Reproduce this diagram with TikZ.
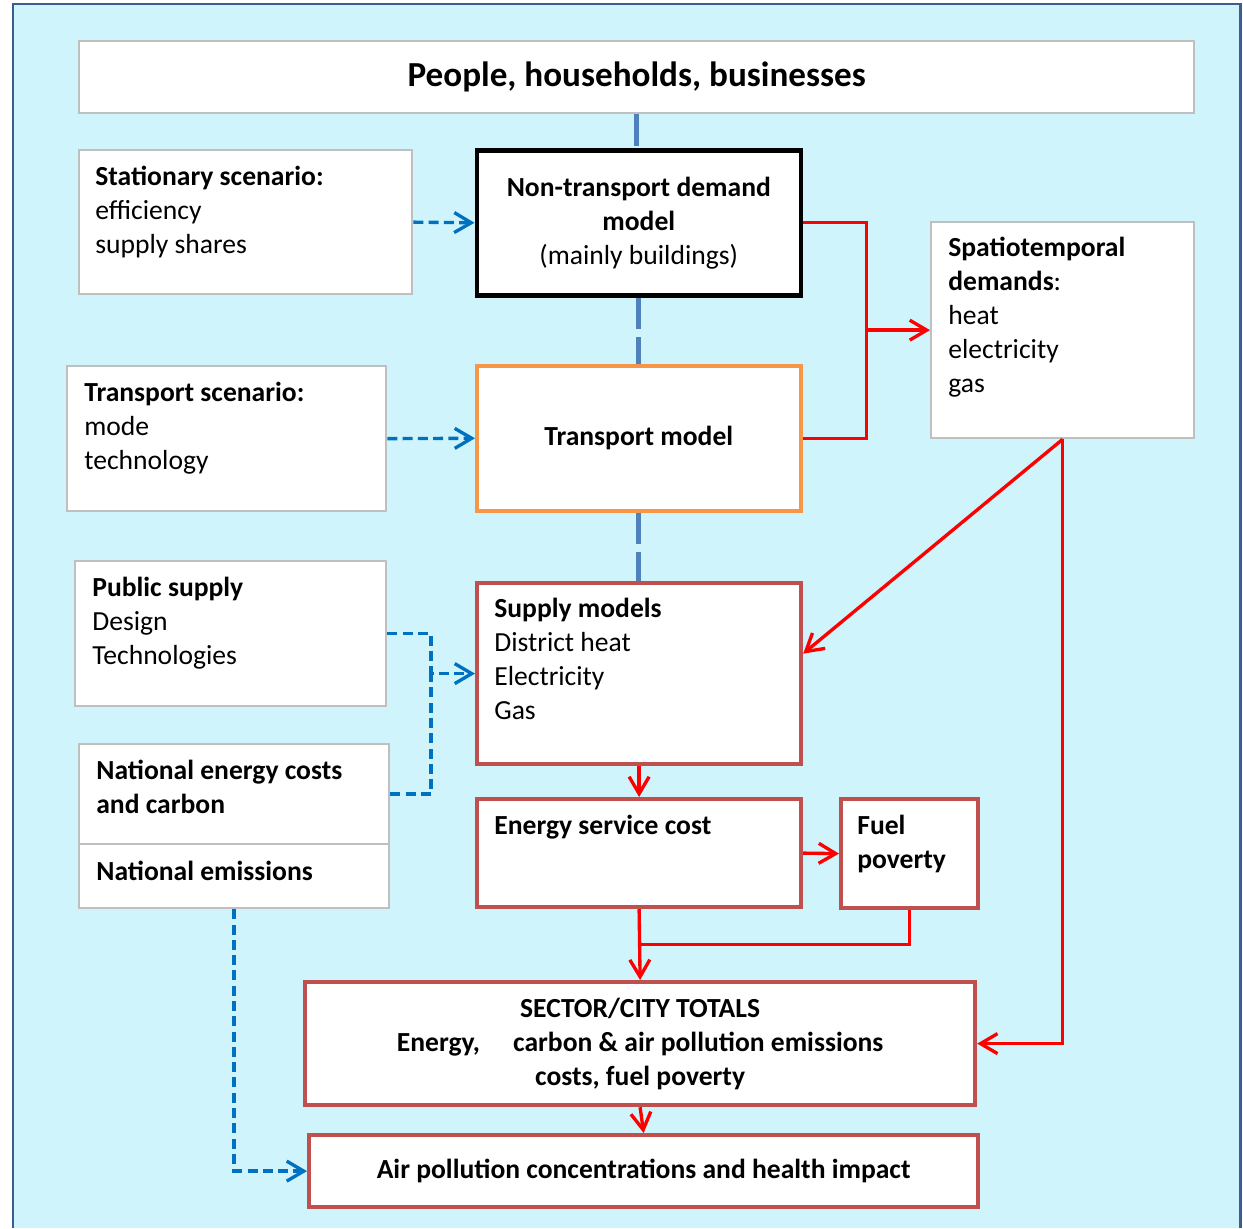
\documentclass[tikz,border=0pt]{standalone}
\usepackage{fontspec}
\setmainfont{Carlito}
\usetikzlibrary{arrows.meta,positioning,calc}
\definecolor{bgblue}{HTML}{CFF4FC}
\definecolor{frameblue}{HTML}{3A5F8F}
\definecolor{boxgray}{HTML}{BFBFBF}
\definecolor{linkblue}{HTML}{4F81BD}
\definecolor{dashblue}{HTML}{0070C0}
\definecolor{supplyred}{HTML}{C0504D}
\definecolor{modelorange}{HTML}{F79646}
\definecolor{flowred}{HTML}{FF0000}

\tikzset{
  box/.style={draw=boxgray, line width=1.3pt, fill=white, anchor=north west, inner sep=0pt},
  redbox/.style={box, draw=supplyred, line width=2.4pt},
  boxtext/.style={anchor=north west, inner sep=0pt, align=left, font=\fontsize{15.7}{19.3}\selectfont},
  midtext/.style={align=center, font=\fontsize{15.7}{19.3}\selectfont},
  link/.style={draw=linkblue, line width=2.8pt, dash pattern=on 18pt off 4.5pt},
  blueflow/.style={draw=dashblue, line width=1.9pt, dash pattern=on 5.7pt off 3pt},
  redflow/.style={draw=flowred, line width=1.9pt},
  tip/.style={-{Straight Barb[length=3.4mm,width=4mm,line width=1.9pt]}}
}

\begin{document}
\begin{tikzpicture}
  \useasboundingbox (0,0) rectangle (24.86,-24.56);
  % background and frame
  \fill[white] (0,0) rectangle (24.86,-24.56);
  \fill[bgblue] (0.26,-0.08) rectangle (24.80,-24.56);
  \draw[frameblue, line width=1.7pt] (0.26,-24.56) -- (0.26,-0.08) -- (24.80,-0.08) -- (24.80,-24.56);

  % boxes
  \node[box, minimum width=22.30cm, minimum height=1.44cm, font=\fontsize{20}{24}\selectfont\bfseries] (people) at (1.56,-0.80) {People, households, businesses};
  \node[box, minimum width=6.66cm, minimum height=2.88cm] (stat) at (1.56,-2.98) {};
  \node[box, draw=black, line width=2.6pt, minimum width=6.48cm, minimum height=2.90cm, midtext] (nontr) at (9.49,-2.96) {\textbf{Non-transport demand}\\\textbf{model}\\(mainly buildings)};
  \node[box, minimum width=5.26cm, minimum height=4.32cm] (spat) at (18.60,-4.42) {};
  \node[box, minimum width=6.38cm, minimum height=2.90cm] (trsc) at (1.32,-7.30) {};
  \node[box, draw=modelorange, line width=2pt, minimum width=6.48cm, minimum height=2.90cm, midtext, font=\fontsize{15.7}{19.3}\selectfont\bfseries] (trmod) at (9.50,-7.28) {Transport model};
  \node[box, minimum width=6.22cm, minimum height=2.90cm] (pub) at (1.48,-11.20) {};
  \node[redbox, minimum width=6.48cm, minimum height=3.62cm] (supply) at (9.50,-11.62) {};
  \node[box, minimum width=6.20cm, minimum height=2.00cm] (natcost) at (1.56,-14.86) {};
  \node[box, minimum width=6.20cm, minimum height=1.28cm] (natem) at (1.56,-16.86) {};
  \node[redbox, minimum width=6.48cm, minimum height=2.16cm] (esc) at (9.50,-15.94) {};
  \node[redbox, minimum width=2.74cm, minimum height=2.18cm] (fuel) at (16.78,-15.94) {};
  \node[redbox, minimum width=13.40cm, minimum height=2.46cm, midtext, font=\fontsize{15.7}{19.3}\selectfont\bfseries] (totals) at (6.06,-19.60) {SECTOR/CITY TOTALS\\Energy,\hspace{1.2em}carbon \& air pollution emissions\\costs, fuel poverty};
  \node[redbox, minimum width=13.38cm, minimum height=1.44cm, font=\fontsize{15.7}{19.3}\selectfont\bfseries] (air) at (6.14,-22.66) {Air pollution concentrations and health impact};

  % texts in the boxes
  \node[boxtext] (stattxt) at ($(stat.north west)+(0.34,-0.34)$) {\textbf{Stationary scenario:}\\efficiency\\supply shares};
  \node[boxtext] (spattxt) at ($(spat.north west)+(0.36,-0.32)$) {\textbf{Spatiotemporal}\\\textbf{demands}:\\heat\\electricity\\gas};
  \node[boxtext] (trsctxt) at ($(trsc.north west)+(0.36,-0.34)$) {\textbf{Transport scenario:}\\mode\\technology};
  \node[boxtext] (pubtxt) at ($(pub.north west)+(0.36,-0.34)$) {\textbf{Public supply}\\Design\\Technologies};
  \node[boxtext] (supplytxt) at ($(supply.north west)+(0.38,-0.34)$) {\textbf{Supply models}\\District heat\\Electricity\\Gas};
  \node[boxtext] (natcosttxt) at ($(natcost.north west)+(0.36,-0.34)$) {\textbf{National energy costs}\\\textbf{and carbon}};
  \node[boxtext] (natemtxt) at ($(natem.north west)+(0.36,-0.36)$) {\textbf{National emissions}};
  \node[boxtext] (esctxt) at ($(esc.north west)+(0.38,-0.36)$) {\textbf{Energy service cost}};
  \node[boxtext] (fueltxt) at ($(fuel.north west)+(0.36,-0.36)$) {\textbf{Fuel}\\\textbf{poverty}};

  % model chain
  \draw[link] (people.south) -- (people.south |- nontr.north);
  \draw[link] (nontr.south) -- (nontr.south |- trmod.north);
  \draw[link] (trmod.south) -- (trmod.south |- supply.north);

  % scenario inputs
  \coordinate (jb) at ($(pub.east)!0.5!(supply.west)$);
  \draw[blueflow, tip] (stat.east) -- (nontr.west);
  \draw[blueflow, tip] (trsc.east) -- (trmod.west);
  \draw[blueflow, tip] (pub.east) -| (jb |- supply.west) -- (supply.west);
  \draw[blueflow] (natcost.east) -| (jb |- supply.west);
  \draw[blueflow, tip] (natem.south) |- (air.west);

  % energy flows
  \coordinate (jr) at ($(nontr.east)!0.5!(spat.west)$);
  \draw[redflow] (nontr.east) -| (jr |- trmod.east) -- (trmod.east);
  \draw[redflow, tip] (jr |- spat.west) -- (spat.west);
  \draw[redflow, tip] (spat.south) -- ([yshift=0.4cm]supply.east);
  \draw[redflow, tip] (spat.south) |- (totals.east);
  \draw[redflow, tip] (supply.south) -- (esc.north);
  \draw[redflow, tip] (esc.east) -- (fuel.west);
  \draw[redflow, tip] (esc.south) -- (totals.north);
  \draw[redflow] (fuel.south) |- ($(esc.south)!0.5!(totals.north)$);
  \draw[redflow, tip] (totals.south) -- (air.north);
\end{tikzpicture}
\end{document}
